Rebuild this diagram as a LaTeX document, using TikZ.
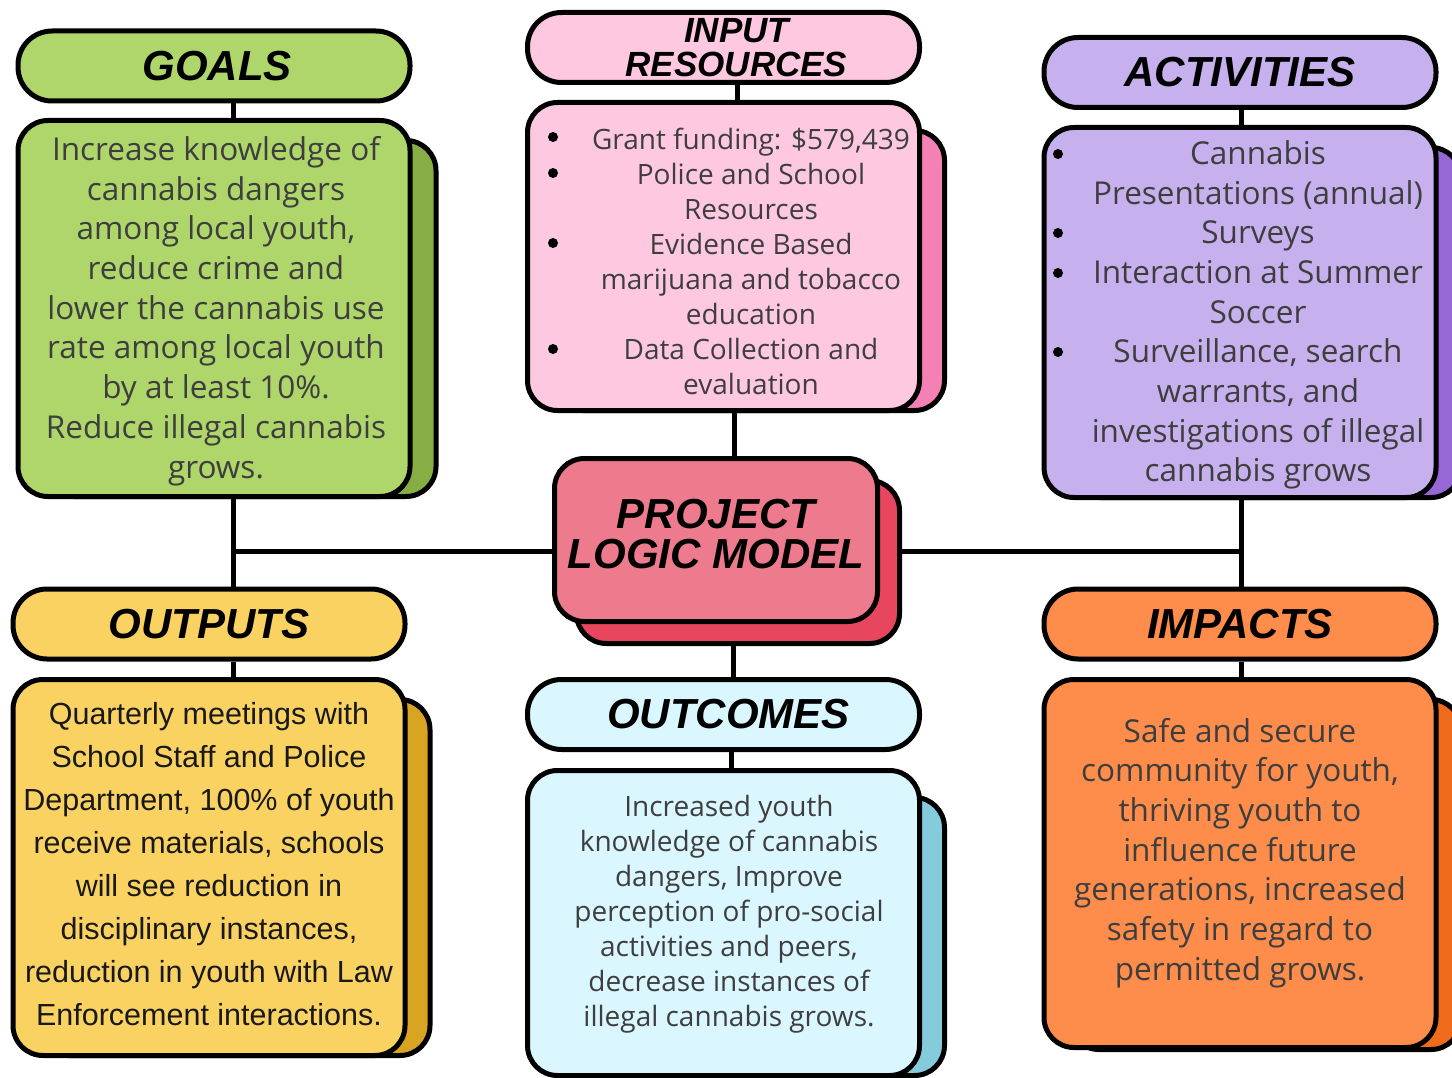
\documentclass[tikz,border=0pt]{standalone}
\usepackage{fontspec}
\setmainfont{Open Sans}
\newfontfamily\arialfont{Liberation Sans}
\usetikzlibrary{positioning}
\definecolor{goalc}{HTML}{AFD66A}
\definecolor{goalsh}{HTML}{86AE45}
\definecolor{inputc}{HTML}{FEC8E0}
\definecolor{inputsh}{HTML}{F381B3}
\definecolor{actc}{HTML}{C6B1EE}
\definecolor{actsh}{HTML}{9568D5}
\definecolor{projc}{HTML}{EE7B8D}
\definecolor{projsh}{HTML}{E8465F}
\definecolor{outc}{HTML}{FAD262}
\definecolor{outsh}{HTML}{D8A422}
\definecolor{outcomec}{HTML}{DAF6FE}
\definecolor{outcomesh}{HTML}{84CBDC}
\definecolor{impc}{HTML}{FE8D4B}
\definecolor{impsh}{HTML}{F06B1C}
\definecolor{textgray}{HTML}{3E3E3E}
\tikzstyle{head} = [rectangle, draw, line width=5pt, rounded corners=34pt, minimum width=392pt, minimum height=70pt, inner sep=0pt, font=\arialfont\bfseries\itshape\fontsize{42}{36}\selectfont]
\tikzstyle{card} = [rectangle, draw, line width=5pt, rounded corners=30pt, minimum width=392pt, inner sep=0pt]
\tikzstyle{lines} = [align=center, text=textgray, inner sep=0pt, font=\fontsize{31.5}{39.7}\selectfont]
\tikzstyle{smalllines} = [lines, font=\fontsize{28}{35}\selectfont]
\tikzstyle{dot} = [circle, fill=black, minimum size=10pt, inner sep=0pt]
\tikzstyle{link} = [line width=5pt]

\begin{document}
\begin{tikzpicture}[x=1pt, y=-1pt]
  \useasboundingbox (0,0) rectangle (1452,1078);

  % trunk points
  \coordinate (ltrunk) at (233,551);
  \coordinate (mtrunk) at (734,551);
  \coordinate (rtrunk) at (1241,551);

  % shadows
  \node[card, fill=goalsh, minimum height=356pt] (goalshade) at (240,318.5) {};
  \node[card, fill=inputsh, minimum height=280pt] (inshade) at (748.5,270.5) {};
  \node[card, fill=actsh, minimum height=350pt] (actshade) at (1265,322.5) {};
  \node[card, fill=projsh, minimum width=323pt, minimum height=163pt] (projshade) at (738,562) {};
  \node[card, fill=outsh, minimum height=356pt] (outshade) at (234,877.5) {};
  \node[card, fill=outcomesh, minimum height=278pt] (outcomeshade) at (748.5,936.5) {};
  \node[card, fill=impsh, minimum height=350pt] (impshade) at (1265,874.5) {};

  % cards
  \node[card, fill=goalc, minimum height=376pt] (goalbody) at (214,308.5) {};
  \node[card, fill=inputc, minimum height=308pt] (inbody) at (723.5,256.5) {};
  \node[card, fill=actc, minimum height=370pt] (actbody) at (1240,312.5) {};
  \node[card, fill=projc, minimum width=323pt, minimum height=163pt, align=center,
        font=\arialfont\bfseries\itshape\fontsize{42}{42}\selectfont] (proj) at (716,540) {PROJECT\\[-2pt]LOGIC MODEL\\[-30pt]};
  \node[card, fill=outc, minimum height=376pt] (outbody) at (209,867.5) {};
  \node[card, fill=outcomec, minimum height=305pt] (outcomebody) at (723.5,923) {};
  \node[card, fill=impc, minimum height=368pt] (impbody) at (1240,863.5) {};

  % headers
  \node[head, fill=goalc] (goalhead) at (214,66) {\hspace*{6pt}GOALS};
  \node[head, fill=inputc, align=center, font=\arialfont\bfseries\itshape\fontsize{35}{34}\selectfont] (inhead) at (723.5,47.5) {\hspace*{26pt}INPUT\\\hspace*{26pt}RESOURCES};
  \node[head, fill=actc] (acthead) at (1240,72.5) {ACTIVITIES};
  \node[head, fill=outc] (outhead) at (209,624) {OUTPUTS};
  \node[head, fill=outcomec] (outcomehead) at (723.5,714.5) {\hspace*{10pt}OUTCOMES};
  \node[head, fill=impc] (imphead) at (1240,624) {IMPACTS};

  % texts
  \node[lines] (goaltext) at (216,311) {Increase knowledge of\\ cannabis dangers\\ among local youth,\\ reduce crime and\\ lower the cannabis use\\ rate among local youth\\ by at least 10\%.\\ Reduce illegal cannabis\\ grows.};
  \node[smalllines] (intext) at (751,261) {Grant funding: \$579,439\\ Police and School\\ Resources\\ Evidence Based\\ marijuana and tobacco\\ education\\ Data Collection and\\ evaluation};
  \node[lines] (acttext) at (1258,315) {Cannabis\\ Presentations (annual)\\ Surveys\\ Interaction at Summer\\ Soccer\\ Surveillance, search\\ warrants, and\\ investigations of illegal\\ cannabis grows};
  \node[lines, text=black!90, font=\arialfont\fontsize{30.5}{43}\selectfont] (outtext) at (209,864) {Quarterly meetings with\\ School Staff and Police\\ Department, 100\% of youth\\ receive materials, schools\\ will see reduction in\\ disciplinary instances,\\ reduction in youth with Law\\ Enforcement interactions.};
  \node[smalllines] (outcometext) at (729,914) {Increased youth\\ knowledge of cannabis\\ dangers, Improve\\ perception of pro-social\\ activities and peers,\\ decrease instances of\\ illegal cannabis grows.};
  \node[lines] (imptext) at (1240,853) {Safe and secure\\ community for youth,\\ thriving youth to\\ influence future\\ generations, increased\\ safety in regard to\\ permitted grows.};

  % bullets
  \foreach \y in {137,173,243,349}
    \node[dot] at (553,\y) {};
  \foreach \y in {154,233,273,352}
    \node[dot] at (1058,\y) {};

  % left branch
  \draw[link] (goalhead.south -| ltrunk) -- (goalbody.north -| ltrunk);
  \draw[link] (goalbody.south -| ltrunk) -- (outhead.north -| ltrunk);
  \draw[link] (ltrunk) -- (ltrunk -| proj.west);
  \draw[link] (outhead.south -| ltrunk) -- (outbody.north -| ltrunk);

  % middle branch
  \draw[link] ([xshift=3pt]inhead.south -| mtrunk) -- ([xshift=3pt]inbody.north -| mtrunk);
  \draw[link] (inbody.south -| mtrunk) -- (proj.north -| mtrunk);
  \draw[link] ([xshift=-1pt]projshade.south -| mtrunk) -- ([xshift=-1pt]outcomehead.north -| mtrunk);
  \draw[link] ([xshift=-3pt]outcomehead.south -| mtrunk) -- ([xshift=-3pt]outcomebody.north -| mtrunk);

  % right branch
  \draw[link] (acthead.south -| rtrunk) -- (actbody.north -| rtrunk);
  \draw[link] (actbody.south -| rtrunk) -- (imphead.north -| rtrunk);
  \draw[link] (projshade.east |- rtrunk) -- (rtrunk);
  \draw[link] (imphead.south -| rtrunk) -- (impbody.north -| rtrunk);
\end{tikzpicture}
\end{document}
